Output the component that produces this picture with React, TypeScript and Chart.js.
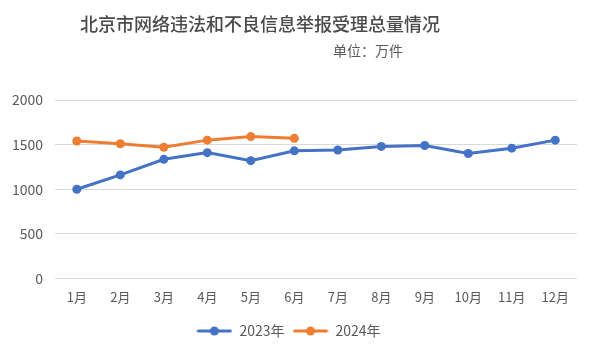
import React, { useEffect, useRef } from "react";
import { Chart, registerables } from "chart.js";

Chart.register(...registerables);

const TITLE = "北京市网络违法和不良信息举报受理总量情况";
const SUBTITLE = "单位：万件";
const MONTHS = ["1月", "2月", "3月", "4月", "5月", "6月", "7月", "8月", "9月", "10月", "11月", "12月"];
const SERIES_2023_LABEL = "2023年";
const SERIES_2024_LABEL = "2024年";
const VALUES_2023 = [1000, 1160, 1335, 1410, 1320, 1430, 1440, 1480, 1490, 1400, 1460, 1550];
const VALUES_2024 = [1540, 1510, 1470, 1550, 1590, 1570];
const Y_MIN = 0;
const Y_MAX = 2000;
const Y_STEP = 500;

const BLUE = "#4472C4";
const ORANGE = "#ED7D31";
const TEXT = "#595959";
const FONT = "'Noto Sans CJK SC', 'Noto Sans', sans-serif";

function legendIcon(color: string): HTMLCanvasElement {
  const c = document.createElement("canvas");
  c.width = 36;
  c.height = 12;
  const ctx = c.getContext("2d")!;
  ctx.strokeStyle = color;
  ctx.lineWidth = 3;
  ctx.lineCap = "round";
  ctx.beginPath();
  ctx.moveTo(2, 6);
  ctx.lineTo(34, 6);
  ctx.stroke();
  ctx.fillStyle = color;
  ctx.beginPath();
  ctx.arc(18, 6, 4.5, 0, Math.PI * 2);
  ctx.fill();
  return c;
}

const titlePlugin = {
  id: "customTitle",
  afterDraw(chart: any) {
    const ctx = chart.ctx;
    ctx.save();
    ctx.fillStyle = "#4a4a4a";
    ctx.textBaseline = "middle";
    ctx.textAlign = "center";
    ctx.font = `500 18px ${FONT}`;
    ctx.fillText(TITLE, 260, 24);
    ctx.fillStyle = TEXT;
    ctx.font = `14px ${FONT}`;
    ctx.fillText(SUBTITLE, 368, 51);
    ctx.restore();
  },
};

export default function App() {
  const ref = useRef<HTMLCanvasElement | null>(null);
  useEffect(() => {
    if (!ref.current) return;
    const icons = [legendIcon(BLUE), legendIcon(ORANGE)];
    const chart = new Chart(ref.current, {
      type: "line",
      data: {
        labels: MONTHS,
        datasets: [
          {
            label: SERIES_2023_LABEL,
            data: VALUES_2023,
            borderColor: BLUE,
            backgroundColor: BLUE,
            borderWidth: 3,
            pointRadius: 4.5,
            pointBackgroundColor: BLUE,
            pointBorderWidth: 0,
            tension: 0,
          },
          {
            label: SERIES_2024_LABEL,
            data: VALUES_2024,
            borderColor: ORANGE,
            backgroundColor: ORANGE,
            borderWidth: 3,
            pointRadius: 4.5,
            pointBackgroundColor: ORANGE,
            pointBorderWidth: 0,
            tension: 0,
          },
        ],
      },
      options: {
        animation: false,
        responsive: false,
        maintainAspectRatio: false,
        layout: { padding: { top: 100, left: 0, right: 17, bottom: 6 } },
        scales: {
          x: {
            offset: true,
            grid: { display: false, drawTicks: false },
            border: { display: false },
            ticks: { color: TEXT, font: { family: FONT, size: 13 }, padding: 11 },
          },
          y: {
            min: Y_MIN,
            max: Y_MAX,
            ticks: {
              stepSize: Y_STEP,
              color: TEXT,
              font: { family: FONT, size: 14 },
              padding: 12,
              callback: (v: any) => String(v),
            },
            grid: { color: "#d9d9d9", lineWidth: 1, drawTicks: false },
            border: { display: false },
          },
        },
        plugins: {
          title: { display: false },
          tooltip: { enabled: false },
          legend: {
            position: "bottom",
            labels: {
              usePointStyle: true,
              pointStyleWidth: 36,
              color: TEXT,
              font: { family: FONT, size: 14 },
              padding: 8,
              generateLabels: (ch: any) =>
                ch.data.datasets.map((ds: any, i: number) => ({
                  text: ds.label,
                  fillStyle: ds.borderColor,
                  strokeStyle: ds.borderColor,
                  lineWidth: 0,
                  pointStyle: icons[i],
                  datasetIndex: i,
                  hidden: false,
                  fontColor: TEXT,
                })),
            },
          },
        },
      },
      plugins: [titlePlugin],
    });
    return () => chart.destroy();
  }, []);
  return (
    <div style={{ position: "fixed", left: 0, top: 0, width: 594, height: 354, background: "#fff" }}>
      <canvas ref={ref} width={594} height={354} style={{ width: 594, height: 354 }} />
    </div>
  );
}
